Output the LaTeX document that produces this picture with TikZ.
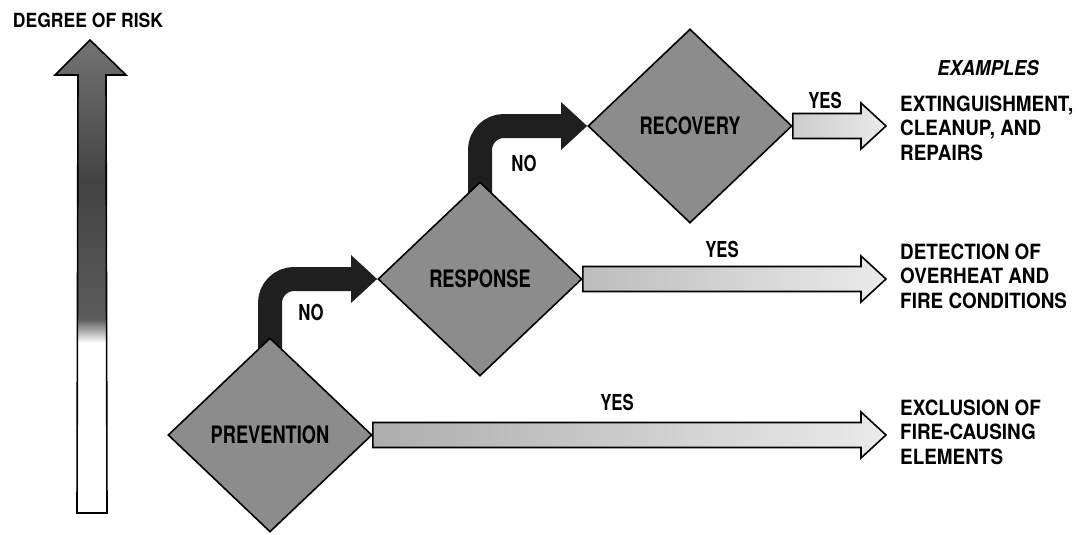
\documentclass[tikz,border=0pt]{standalone}
\usepackage{fontspec}
\newfontfamily\narrowfont{TeX Gyre Heros}[FakeStretch=0.76]
\newfontfamily\plainfont{TeX Gyre Heros}[FakeStretch=0.9]
\usepackage{tikz}
\usetikzlibrary{arrows.meta, positioning, shapes.geometric, calc, backgrounds}

% grey band of the risk scale, dark on top and white below
\pgfdeclareverticalshading{riskshade}{100bp}{color(0bp)=(white); color(43bp)=(white); color(45.5bp)=(black!64); color(60bp)=(black!74); color(75bp)=(black!55); color(100bp)=(black!55)}

\tikzset{
  decision/.style={diamond, draw=black, line width=1.6pt, fill=black!45, minimum width=204pt, minimum height=194pt, inner sep=0pt, font=\narrowfont\bfseries\fontsize{24}{26}\selectfont},
  answer/.style={font=\narrowfont\bfseries\fontsize{22}{24}\selectfont, inner sep=0pt},
  example/.style={font=\plainfont\bfseries\fontsize{21}{24.5}\selectfont, align=left, anchor=west, inner sep=0pt},
  noarrow/.style={draw=black!88, line width=24pt, rounded corners=24pt, -{Triangle[length=26pt,width=46pt]}},
  yesshaft/.style={draw=black, line width=1.6pt, right color=black!8},
}

% fat outlined arrow from a decision to its example text
\newcommand\yesarrow[3]{%
  \path[yesshaft, left color=#3] let \p1=(#1.east), \p2=(#2.west) in
    (\x1,\y1+12.5pt) -- (\x2-39pt,\y1+12.5pt) -- (\x2-39pt,\y1+23pt) -- (\x2-14pt,\y1)
    -- (\x2-39pt,\y1-23pt) -- (\x2-39pt,\y1-12.5pt) -- (\x1,\y1-12.5pt) -- cycle;
}

\begin{document}
\begin{tikzpicture}[x=1pt, y=-1pt]
  \useasboundingbox (0,0) rectangle (1079,535);

  % Risk scale
  \node[font=\plainfont\bfseries\fontsize{19.5}{22}\selectfont, inner sep=0pt] (risk) at (88,20) {DEGREE OF RISK};
  \path[draw=black, line width=1.6pt, shade, shading=riskshade]
    (90,40) -- (126,75) -- (106,75) -- (107,513) -- (77,513) -- (78,75) -- (55,75) -- cycle;

  % Decisions
  \node[decision] (prev) at (270,435) {PREVENTION};
  \node[decision] (resp) at (480,279) {RESPONSE};
  \node[decision] (recov) at (690,126) {RECOVERY};

  % Examples
  \node[font=\plainfont\bfseries\itshape\fontsize{20.5}{24}\selectfont, inner sep=0pt] (examples) at (988,68) {EXAMPLES};
  \node[example] (ex1) at (900,128) {EXTINGUISHMENT,\\CLEANUP, AND\\REPAIRS};
  \node[example] (ex2) at (900,276) {DETECTION OF\\OVERHEAT AND\\FIRE CONDITIONS};
  \node[example] (ex3) at (900,432) {EXCLUSION OF\\FIRE-CAUSING\\ELEMENTS};

  \begin{scope}[on background layer]
    % No branches
    \draw[noarrow] ([yshift=-16pt]prev.north) -- (prev.north |- resp.west) -- (resp.west);
    \draw[noarrow] ([yshift=-16pt]resp.north) -- (resp.north |- recov.west) -- (recov.west);
  \end{scope}

  % Yes branches
  \yesarrow{prev}{ex3}{black!32}
  \yesarrow{resp}{ex2}{black!26}
  \yesarrow{recov}{ex1}{black!20}

  % Answer labels
  \node[answer] (no1) at (311,312) {NO};
  \node[answer] (no2) at (524,163) {NO};
  \node[answer] (yes1) at (825,100) {YES};
  \node[answer] (yes2) at (722,249) {YES};
  \node[answer] (yes3) at (617,402) {YES};
\end{tikzpicture}
\end{document}
